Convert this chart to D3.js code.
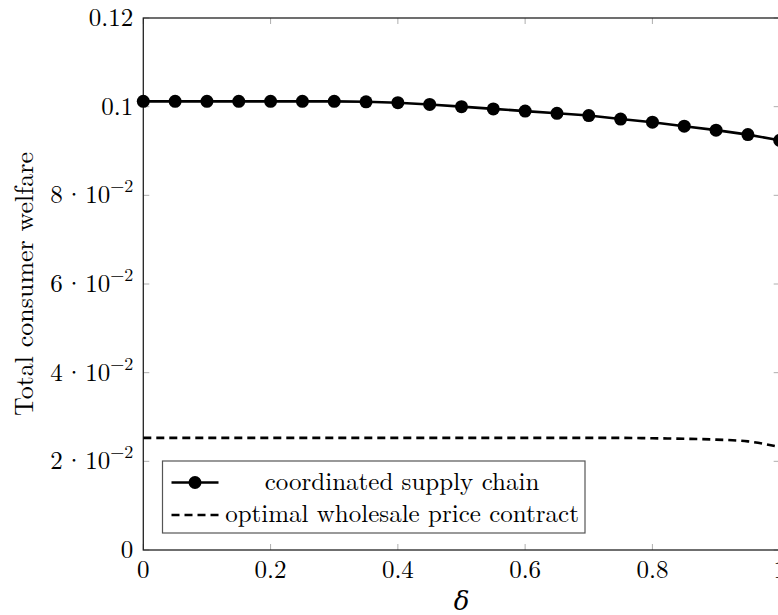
<!DOCTYPE html>
<html><head><meta charset="utf-8">
<script src="https://cdn.jsdelivr.net/npm/d3@7"></script>
<style>body{margin:0;background:#fff;}svg{display:block;}text{font-family:"Latin Modern Roman","DejaVu Serif",serif;}</style>
</head><body>
<svg id="c" width="778" height="615"></svg>
<script>
const deltas = [0,0.05,0.1,0.15,0.2,0.25,0.3,0.35,0.4,0.45,0.5,0.55,0.6,0.65,0.7,0.75,0.8,0.85,0.9,0.95,1.0];
const coordinated = [0.1012,0.1012,0.1012,0.1012,0.1012,0.1012,0.1012,0.1011,0.1009,0.1005,0.1000,0.0995,0.0990,0.0985,0.0980,0.0972,0.0965,0.0956,0.0947,0.0937,0.0924];
const wholesale = [0.0253,0.0253,0.0253,0.0253,0.0253,0.0253,0.0253,0.0253,0.0253,0.0253,0.0253,0.0253,0.0253,0.0253,0.0253,0.0253,0.0252,0.0251,0.0249,0.0245,0.0232];
const xTicks = [0,0.2,0.4,0.6,0.8,1];
const xTickLabels = ["0","0.2","0.4","0.6","0.8","1"];
const yTicks = [0,0.02,0.04,0.06,0.08,0.1,0.12];
const yTickMant = ["0","2","4","6","8","0.1","0.12"];
const seriesNames = ["coordinated supply chain","optimal wholesale price contract"];
const xLabel = "δ";
const yLabel = "Total consumer welfare";

const svg = d3.select("#c");
const L = 143.3, R = 779.7, T = 18, B = 550;
const x = d3.scaleLinear().domain([0,1]).range([L,R]);
const y = d3.scaleLinear().domain([0,0.12]).range([B,T]);

// ticks (inward, gray)
const tg = svg.append("g").attr("stroke","#999").attr("stroke-width",0.8);
xTicks.forEach(v=>{
  tg.append("line").attr("x1",x(v)).attr("x2",x(v)).attr("y1",B).attr("y2",B-6);
  tg.append("line").attr("x1",x(v)).attr("x2",x(v)).attr("y1",T).attr("y2",T+6);
});
yTicks.forEach(v=>{
  tg.append("line").attr("x1",L).attr("x2",L+6).attr("y1",y(v)).attr("y2",y(v));
  tg.append("line").attr("x1",R).attr("x2",R-6).attr("y1",y(v)).attr("y2",y(v));
});
// frame
svg.append("rect").attr("x",L).attr("y",T).attr("width",R-L).attr("height",B-T)
  .attr("fill","none").attr("stroke","#222").attr("stroke-width",1.3);

// tick labels
const fs = 25;
xTicks.forEach((v,i)=>{
  svg.append("text").attr("x",x(v)).attr("y",B+28).attr("text-anchor","middle")
    .attr("font-size",fs).text(xTickLabels[i]);
});
yTicks.forEach((v,i)=>{
  const t = svg.append("text").attr("x",L-10).attr("y",y(v)+8).attr("text-anchor","end").attr("font-size",fs);
  if (v===0 || v>=0.1) { t.text(yTickMant[i]); }
  else {
    t.append("tspan").text(yTickMant[i]+"\u200a·\u200a10");
    t.append("tspan").attr("dy",-11).attr("font-size",18).text("−2");
  }
});

// axis labels
svg.append("text").attr("x",(L+R)/2).attr("y",610).attr("text-anchor","middle")
  .attr("font-size",26).attr("font-style","italic").text(xLabel);
svg.append("text").attr("transform",`translate(33,${(T+B)/2}) rotate(-90)`)
  .attr("text-anchor","middle").attr("font-size",26).text(yLabel);

// series
const line = d3.line().x((d,i)=>x(deltas[i])).y(d=>y(d));
const lineS = d3.line().curve(d3.curveMonotoneX).x((d,i)=>x(deltas[i])).y(d=>y(d));
svg.append("path").datum(wholesale).attr("d",lineS).attr("fill","none")
  .attr("stroke","#000").attr("stroke-width",2.6).attr("stroke-dasharray","8,5");
svg.append("path").datum(coordinated).attr("d",line).attr("fill","none")
  .attr("stroke","#000").attr("stroke-width",2.6);
svg.selectAll("circle.m").data(coordinated).enter().append("circle")
  .attr("cx",(d,i)=>x(deltas[i])).attr("cy",d=>y(d)).attr("r",6.5).attr("fill","#000");

// legend
const lg = svg.append("g");
lg.append("rect").attr("x",162.5).attr("y",461).attr("width",422.5).attr("height",72)
  .attr("fill","#fff").attr("stroke","#555").attr("stroke-width",1.2);
const r1 = 482.5, r2 = 515;
lg.append("line").attr("x1",171.5).attr("x2",218.5).attr("y1",r1).attr("y2",r1).attr("stroke","#000").attr("stroke-width",2.6);
lg.append("circle").attr("cx",195).attr("cy",r1).attr("r",6.5).attr("fill","#000");
lg.append("line").attr("x1",171.5).attr("x2",218.5).attr("y1",r2).attr("y2",r2).attr("stroke","#000").attr("stroke-width",2.6).attr("stroke-dasharray","8,5");
lg.append("text").attr("x",402).attr("y",r1+7).attr("text-anchor","middle").attr("font-size",25).text(seriesNames[0]);
lg.append("text").attr("x",402).attr("y",r2+7).attr("text-anchor","middle").attr("font-size",25).text(seriesNames[1]);
</script>
</body></html>
